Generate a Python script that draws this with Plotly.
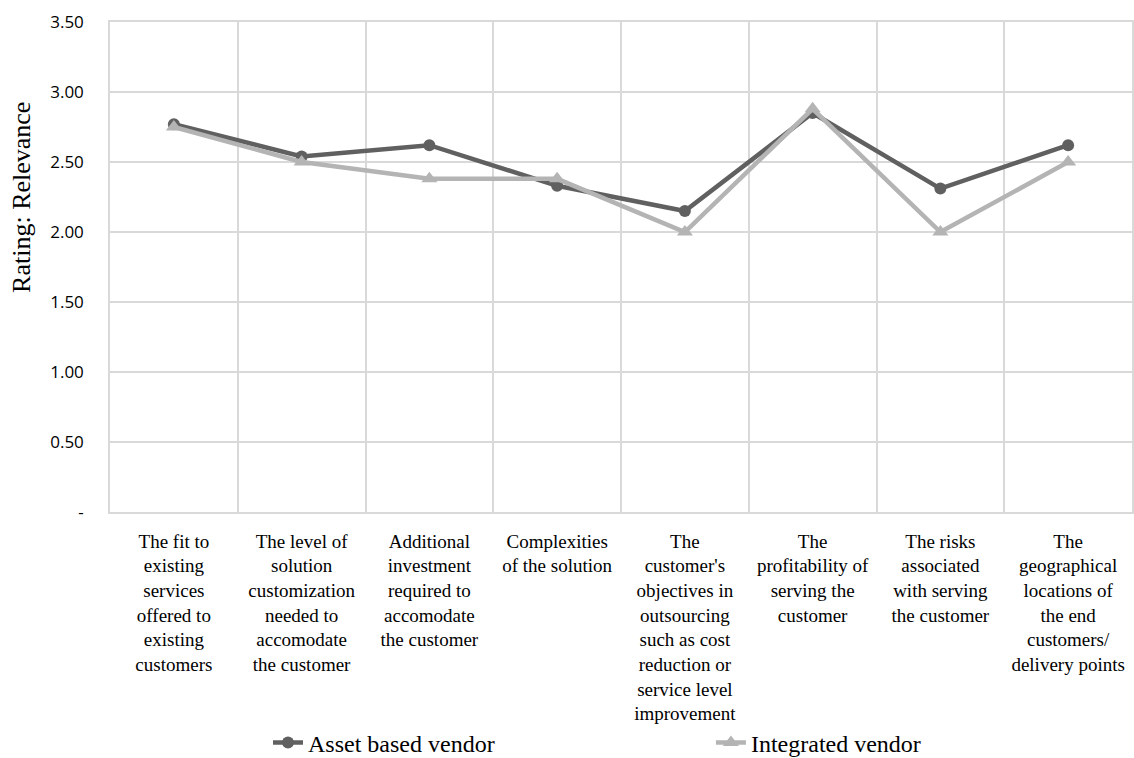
import plotly.graph_objects as go

categories = [
    "The fit to<br>existing<br>services<br>offered to<br>existing<br>customers",
    "The level of<br>solution<br>customization<br>needed to<br>accomodate<br>the customer",
    "Additional<br>investment<br>required to<br>accomodate<br>the customer",
    "Complexities<br>of the solution",
    "The<br>customer's<br>objectives in<br>outsourcing<br>such as cost<br>reduction or<br>service level<br>improvement",
    "The<br>profitability of<br>serving the<br>customer",
    "The risks<br>associated<br>with serving<br>the customer",
    "The<br>geographical<br>locations of<br>the end<br>customers/<br>delivery points",
]
asset_based = [2.77, 2.54, 2.62, 2.33, 2.15, 2.85, 2.31, 2.62]
integrated = [2.75, 2.50, 2.38, 2.38, 2.00, 2.88, 2.00, 2.50]
y_ticks = [0, 0.5, 1.0, 1.5, 2.0, 2.5, 3.0, 3.5]
y_ticktext = ["-", "0.50", "1.00", "1.50", "2.00", "2.50", "3.00", "3.50"]

xs = list(range(len(categories)))

fig = go.Figure()
fig.add_trace(go.Scatter(
    x=xs, y=asset_based, name="Asset based vendor", mode="lines+markers",
    line=dict(color="#606060", width=4.5),
    marker=dict(symbol="circle", size=12, color="#606060"),
    legend="legend",
))
fig.add_trace(go.Scatter(
    x=xs, y=integrated, name="Integrated vendor", mode="lines+markers",
    line=dict(color="#b4b4b4", width=4.5),
    marker=dict(symbol="triangle-up", size=14, color="#b4b4b4"),
    legend="legend2",
))

grid = "#d9d9d9"
leg_font = dict(family="Liberation Serif", size=24, color="#000000")
fig.update_layout(
    width=1134, height=758,
    margin=dict(l=110, r=2, t=22, b=246, autoexpand=False),
    paper_bgcolor="white", plot_bgcolor="white",
    showlegend=True,
    legend=dict(
        orientation="h", x=0.1546, xanchor="left", y=-0.4714, yanchor="middle",
        font=leg_font, itemwidth=30, bgcolor="rgba(0,0,0,0)",
    ),
    legend2=dict(
        orientation="h", x=0.5880, xanchor="left", y=-0.4714, yanchor="middle",
        font=leg_font, itemwidth=30, bgcolor="rgba(0,0,0,0)",
    ),
    xaxis=dict(
        range=[-0.5, 7.5], tickvals=xs, ticktext=categories,
        tickangle=0, showgrid=False, zeroline=False, automargin=False,
        showline=True, linecolor=grid, linewidth=1.5, mirror=True,
        ticks="", ticklen=0, ticklabelstandoff=11,
        tickfont=dict(family="Liberation Serif", size=19, color="#000000"),
        minor=dict(tick0=0.5, dtick=1, showgrid=True, gridcolor=grid, gridwidth=1.5, ticks=""),
    ),
    yaxis=dict(
        range=[0, 3.5], tickvals=y_ticks, ticktext=y_ticktext, automargin=False,
        showgrid=True, gridcolor=grid, gridwidth=1.5, zeroline=False,
        showline=True, linecolor=grid, linewidth=1.5, mirror=True,
        ticks="", ticklabelstandoff=21,
        tickfont=dict(family="Open Sans", size=17, color="#000000"),
    ),
    annotations=[dict(
        text="Rating: Relevance", textangle=-90,
        xref="paper", yref="paper", x=-0.0861, y=0.641,
        xanchor="center", yanchor="middle", showarrow=False,
        font=dict(family="Liberation Serif", size=26, color="#000000"),
    )],
)

fig.write_html("out.html")
